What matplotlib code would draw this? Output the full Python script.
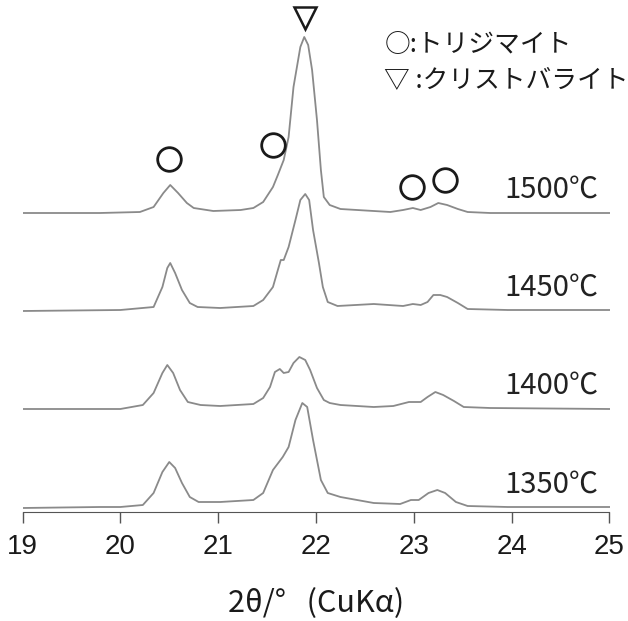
import matplotlib
matplotlib.use("Agg")
import matplotlib.pyplot as plt

plt.rcParams['font.family'] = ['Liberation Sans', 'Noto Sans CJK JP', 'DejaVu Sans']

# XRD patterns (2theta in degrees, intensity in a.u.)
x_1350 = [19.00, 19.79, 20.00, 20.23, 20.34, 20.43, 20.50, 20.56, 20.63, 20.71, 20.80,
          21.02, 21.36, 21.46, 21.56, 21.66, 21.72, 21.79, 21.86, 21.91, 21.97, 22.05,
          22.12, 22.25, 22.59, 22.86, 22.97, 23.05, 23.15, 23.24, 23.32, 23.43, 23.55,
          23.96, 25.00]
y_1350 = [4, 5, 5, 7, 19, 40, 50, 44, 29, 15, 10,
          10, 12, 19, 42, 55, 65, 92, 109, 105, 72, 32,
          19, 15, 9, 8, 12, 12, 19, 22, 19, 10, 6,
          5, 5]

x_1400 = [19.00, 20.00, 20.23, 20.34, 20.43, 20.48, 20.54, 20.61, 20.69, 20.82, 21.02,
          21.36, 21.46, 21.53, 21.58, 21.63, 21.67, 21.72, 21.77, 21.83, 21.89, 21.94,
          22.01, 22.08, 22.14, 22.25, 22.59, 22.79, 22.95, 23.07, 23.14, 23.22, 23.30,
          23.41, 23.51, 23.78, 25.00]
y_1400 = [4, 4, 8, 20, 40, 48, 40, 23, 11, 8, 7,
          9, 15, 26, 41, 44, 40, 41, 50, 56, 53, 43,
          25, 13, 10, 8, 6, 7, 11, 11, 16, 21, 18,
          12, 6, 5, 4]

x_1450 = [19.00, 20.00, 20.34, 20.43, 20.48, 20.51, 20.56, 20.63, 20.71, 20.79, 21.02,
          21.36, 21.46, 21.56, 21.61, 21.64, 21.67, 21.72, 21.79, 21.84, 21.89, 21.93,
          21.97, 22.03, 22.07, 22.12, 22.22, 22.59, 22.89, 22.99, 23.07, 23.14, 23.20,
          23.27, 23.34, 23.45, 23.55, 23.96, 25.00]
y_1450 = [4, 5, 8, 28, 47, 52, 42, 25, 12, 8, 7,
          9, 15, 28, 45, 55, 55, 68, 95, 115, 121, 115,
          85, 52, 28, 13, 9, 11, 9, 11, 10, 13, 20,
          20, 18, 12, 6, 5, 5]

x_1500 = [19.00, 19.79, 20.20, 20.34, 20.44, 20.51, 20.59, 20.68, 20.75, 20.95, 21.23,
          21.36, 21.46, 21.56, 21.61, 21.67, 21.72, 21.77, 21.84, 21.88, 21.92, 21.96,
          22.01, 22.05, 22.08, 22.14, 22.25, 22.59, 22.76, 22.89, 22.99, 23.07, 23.17,
          23.25, 23.34, 23.45, 23.55, 23.78, 25.00]
y_1500 = [4, 4, 5, 10, 24, 32, 24, 14, 9, 6, 7,
          9, 15, 30, 42, 57, 80, 130, 170, 180, 172, 147,
          97, 47, 20, 12, 8, 6, 5, 7, 9, 7, 10,
          14, 12, 8, 5, 4, 4]

temps = ["1350℃", "1400℃", "1450℃", "1500℃"]
patterns = [(x_1350, y_1350), (x_1400, y_1400), (x_1450, y_1450), (x_1500, y_1500)]
offsets = [0, 99, 197, 295]

# peak marks: tridymite (circle) and cristobalite (triangle)
trid_x = [20.50, 21.56, 22.98, 23.32]
trid_y = [353, 367, 325, 332]
crist_x = [21.89]
crist_y = [494]

legend_lines = ["○:トリジマイト", "▽ :クリストバライト"]

fig = plt.figure(figsize=(6.28, 6.21), dpi=100)
ax = fig.add_axes([22.5 / 628, 109 / 621, 587 / 628, 512 / 621])

for (xs, ys), off, t in zip(patterns, offsets, temps):
    ax.plot(xs, [v + off for v in ys], color='#8a8a8a', linewidth=1.3)
    ax.text(24.89, off + 27, t, ha='right', va='center', fontsize=21,
            family=['Noto Sans CJK JP'], color='#222222')

ax.plot(trid_x, trid_y, 'o', markersize=17, markerfacecolor='none',
        markeredgecolor='#1a1a1a', markeredgewidth=2.0, clip_on=False)
ax.plot(crist_x, crist_y, 'v', markersize=16, markerfacecolor='none',
        markeredgecolor='#1a1a1a', markeredgewidth=1.8, clip_on=False)

for i, line in enumerate(legend_lines):
    ax.text(22.70, 467 - 35 * i, line, ha='left', va='center', fontsize=18.5,
            family=['Noto Sans CJK JP', 'DejaVu Sans'], color='#1a1a1a')

ax.set_xlim(19, 25)
ax.set_ylim(0, 512)
ax.set_xticks(range(19, 26))
ax.set_xticklabels([str(v) for v in range(19, 26)], family='Liberation Sans')
ax.set_yticks([])
for s in ['left', 'right', 'top']:
    ax.spines[s].set_visible(False)
ax.spines['bottom'].set_color('#555555')
ax.tick_params(axis='x', direction='out', length=8, width=1, color='#555555',
               pad=8, labelsize=20, labelcolor='#1a1a1a')
ax.set_xlabel('2θ/°   (CuKα)', fontsize=22, family=['Noto Sans CJK JP', 'DejaVu Sans'],
              color='#1a1a1a', labelpad=20)

fig.savefig('out.png', dpi=100)
